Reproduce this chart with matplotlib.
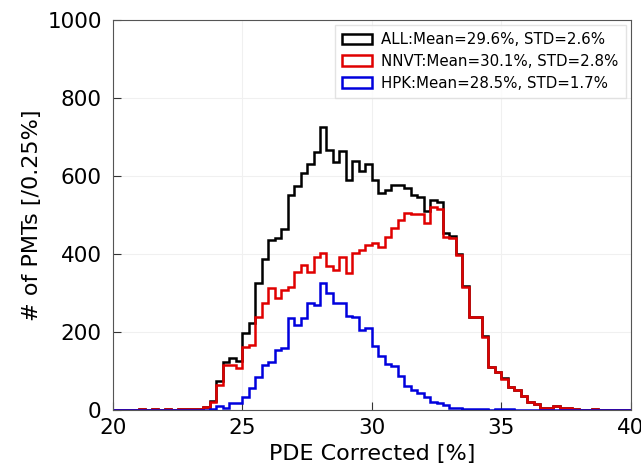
import numpy as np
import matplotlib
matplotlib.use("Agg")
import matplotlib.pyplot as plt

# --- Data: counts per 0.25% bin, bins from 20.0% to 40.0% ---
bin_edges = np.arange(20.0, 40.0 + 0.125, 0.25)

all_counts = [
    0, 0, 0, 0,           # 20
    1, 0, 1, 0,           # 21
    1, 0, 2, 1,           # 22
    2, 3, 7, 23,          # 23
    74, 122, 133, 126,    # 24
    197, 224, 325, 388,   # 25
    436, 442, 464, 551,   # 26
    574, 607, 630, 662,   # 27
    725, 668, 637, 664,   # 28
    591, 638, 613, 632,   # 29
    591, 557, 564, 578,   # 30
    576, 569, 551, 546,   # 31
    511, 538, 533, 455,   # 32
    447, 400, 317, 239,   # 33
    239, 190, 111, 97,    # 34
    81, 59, 50, 36,       # 35
    21, 15, 4, 4,         # 36
    10, 4, 4, 1,          # 37
    0, 0, 1, 0,           # 38
    0, 0, 0, 0,           # 39
]

nnvt_counts = [
    0, 0, 0, 0,
    1, 0, 1, 0,
    1, 0, 2, 1,
    2, 3, 7, 21,
    64, 115, 115, 108,
    162, 167, 239, 274,
    313, 287, 308, 316,
    355, 372, 355, 393,
    402, 368, 359, 393,
    350, 402, 410, 423,
    429, 419, 444, 466,
    487, 506, 503, 503,
    479, 520, 515, 443,
    442, 397, 315, 238,
    238, 188, 111, 96,
    79, 58, 50, 36,
    21, 15, 4, 4,
    10, 4, 4, 1,
    0, 0, 1, 0,
    0, 0, 0, 0,
]

hpk_counts = [
    0, 0, 0, 0,
    0, 0, 0, 0,
    0, 0, 0, 0,
    0, 0, 0, 2,
    10, 4, 18, 18,
    34, 56, 85, 115,
    124, 154, 158, 235,
    218, 235, 273, 269,
    325, 301, 275, 275,
    240, 237, 205, 209,
    164, 138, 118, 113,
    87, 62, 50, 43,
    33, 19, 17, 12,
    6, 4, 3, 2,
    1, 2, 0, 1,
    2, 1, 0, 0,
    0, 0, 0, 0,
    0, 0, 0, 0,
    0, 0, 0, 0,
    0, 0, 0, 0,
]

labels = [
    "ALL:Mean=29.6%, STD=2.6%",
    "NNVT:Mean=30.1%, STD=2.8%",
    "HPK:Mean=28.5%, STD=1.7%",
]
colors = ["black", "#e00000", "#0000dd"]

# --- Plot ---
fig = plt.figure(figsize=(6.41, 4.70), dpi=100)
ax = fig.add_axes([0.176, 0.128, 0.808, 0.829])

centers = bin_edges[:-1] + 0.125
for counts, lab, col in zip([all_counts, nnvt_counts, hpk_counts], labels, colors):
    ax.hist(centers, bins=bin_edges, weights=counts, histtype="step",
            color=col, linewidth=1.8, label=lab)

ax.set_xlim(20, 40)
ax.set_ylim(0, 1000)
ax.set_xticks([20, 25, 30, 35, 40])
ax.set_yticks([0, 200, 400, 600, 800, 1000])
ax.grid(True, color="#f0f0f0", linewidth=0.8)
ax.set_axisbelow(True)
ax.tick_params(direction="in", labelsize=15.5, length=6, color="#333333")
ax.tick_params(axis="y", pad=8)
ax.tick_params(axis="x", pad=6)
for sp in ax.spines.values():
    sp.set_color("#555555")

ax.set_xlabel("PDE Corrected [%]", fontsize=16, labelpad=4)
ax.set_ylabel("# of PMTs [/0.25%]", fontsize=16, labelpad=4)

leg = ax.legend(loc="upper right", fontsize=10.8, borderaxespad=0.3,
                handlelength=2.0, handletextpad=0.6, labelspacing=0.45,
                borderpad=0.5, fancybox=False)
leg.get_frame().set_edgecolor("#dddddd")

fig.savefig("out.png", dpi=100)
